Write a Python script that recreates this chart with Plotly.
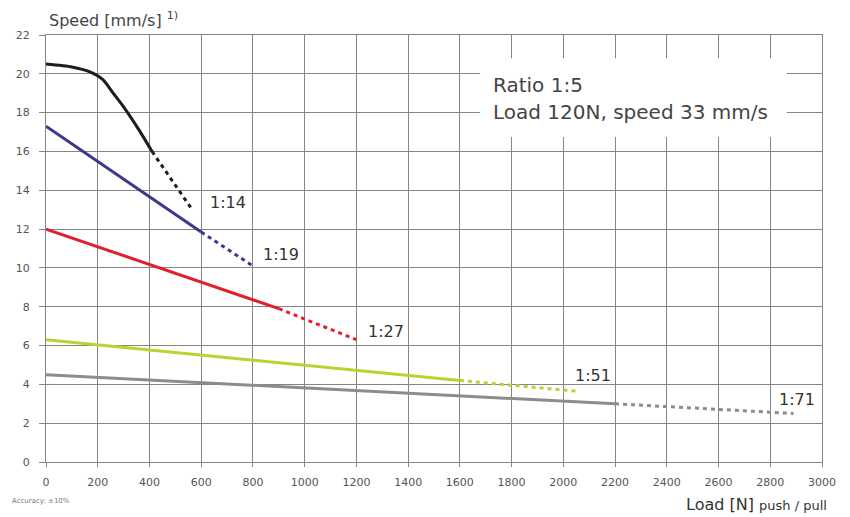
import plotly.graph_objects as go

# ---- data ----
r14_solid_x = [0, 100, 170, 220, 260, 300, 360, 410]
r14_solid_y = [20.5, 20.35, 20.1, 19.7, 19.0, 18.3, 17.1, 16.0]
r14_dot_x = [410, 560]
r14_dot_y = [16.0, 13.1]

r19_solid_x = [0, 600]
r19_solid_y = [17.3, 11.85]
r19_dot_x = [600, 800]
r19_dot_y = [11.85, 10.1]

r27_solid_x = [0, 900]
r27_solid_y = [12.0, 7.9]
r27_dot_x = [900, 1200]
r27_dot_y = [7.9, 6.3]

r51_solid_x = [0, 1600]
r51_solid_y = [6.3, 4.2]
r51_dot_x = [1600, 2050]
r51_dot_y = [4.2, 3.65]

r71_solid_x = [0, 2200]
r71_solid_y = [4.5, 3.0]
r71_dot_x = [2200, 2890]
r71_dot_y = [3.0, 2.5]

ratio_labels = ["1:14", "1:19", "1:27", "1:51", "1:71"]
label_x = [702, 908, 1314, 2113, 2902]
label_y = [13.35, 10.7, 6.7, 4.48, 3.2]

x_ticks = list(range(0, 3001, 200))
y_ticks = list(range(0, 23, 2))

colors = ["#1c1c1c", "#3a3a8c", "#e0202c", "#b8d430", "#8c8c8c"]

series = [
    (r14_solid_x, r14_solid_y, r14_dot_x, r14_dot_y),
    (r19_solid_x, r19_solid_y, r19_dot_x, r19_dot_y),
    (r27_solid_x, r27_solid_y, r27_dot_x, r27_dot_y),
    (r51_solid_x, r51_solid_y, r51_dot_x, r51_dot_y),
    (r71_solid_x, r71_solid_y, r71_dot_x, r71_dot_y),
]

fig = go.Figure()
for i, (sx, sy, dx, dy) in enumerate(series):
    fig.add_trace(go.Scatter(x=sx, y=sy, mode="lines",
                             line=dict(color=colors[i], width=3,
                                       shape="spline" if i == 0 else "linear", smoothing=0.6),
                             showlegend=False, hoverinfo="skip"))
    fig.add_trace(go.Scatter(x=dx, y=dy, mode="lines",
                             line=dict(color=colors[i], width=3, dash="4px,4px"),
                             showlegend=False, hoverinfo="skip"))

for t, lx, ly in zip(ratio_labels, label_x, label_y):
    fig.add_annotation(x=lx, y=ly, xref="x", yref="y", text=t, showarrow=False,
                       font=dict(family="DejaVu Sans", size=16, color="#333333"))

# white info box (hides the grid behind it)
fig.add_shape(type="rect", xref="x", yref="y", x0=1678, x1=2864, y0=16.75, y1=20.8,
              fillcolor="white", line=dict(width=0), layer="between")
fig.add_annotation(x=1720, y=19.42, xref="x", yref="y", xanchor="left", yanchor="middle",
                   text="Ratio 1:5", showarrow=False,
                   font=dict(family="DejaVu Sans", size=20, color="#444444"))
fig.add_annotation(x=1720, y=18.03, xref="x", yref="y", xanchor="left", yanchor="middle",
                   text="Load 120N, speed 33 mm/s", showarrow=False,
                   font=dict(family="DejaVu Sans", size=20, color="#444444"))

# axis titles
fig.add_annotation(x=0.0, y=1.0, xref="paper", yref="paper", xanchor="left", yanchor="middle",
                   yshift=16, xshift=1,
                   text="Speed [mm/s] <sup>1)</sup>", showarrow=False,
                   font=dict(family="DejaVu Sans", size=16, color="#444444"))
fig.add_annotation(x=1.0, y=0, xref="paper", yref="paper", xanchor="right", yanchor="middle",
                   yshift=-42, xshift=7,
                   text="Load [N] <span style='font-size:13px'>push / pull</span>", showarrow=False,
                   font=dict(family="DejaVu Sans", size=16, color="#333333"))
fig.add_annotation(x=0, y=0, xref="paper", yref="paper", xanchor="left", yanchor="middle",
                   xshift=-36, yshift=-39,
                   text="Accuracy: ±10%", showarrow=False,
                   font=dict(family="DejaVu Sans", size=7, color="#777777"))

grid = "#858585"
fig.update_xaxes(range=[0, 3000], tickvals=x_ticks, ticktext=[str(v) for v in x_ticks],
                 showgrid=True, gridcolor=grid, gridwidth=1,
                 showline=True, linecolor=grid, mirror=True,
                 ticks="outside", ticklen=4, tickcolor=grid, ticklabelstandoff=6,
                 tickfont=dict(family="DejaVu Sans", size=11, color="#555555"),
                 zeroline=False, fixedrange=True, automargin=False)
fig.update_yaxes(range=[0, 22], tickvals=y_ticks, ticktext=[str(v) for v in y_ticks],
                 showgrid=True, gridcolor=grid, gridwidth=1,
                 showline=True, linecolor=grid, mirror=True,
                 ticks="outside", ticklen=6, tickcolor=grid, ticklabelstandoff=7,
                 tickfont=dict(family="DejaVu Sans", size=11, color="#555555"),
                 zeroline=False, fixedrange=True, automargin=False)

# The page body has an 8px margin, so the figure is sized and placed to compensate.
fig.update_layout(width=842, height=509, margin=dict(l=38, r=28, t=27, b=55),
                  plot_bgcolor="white", paper_bgcolor="white", showlegend=False)

fig.write_html("out.html")
